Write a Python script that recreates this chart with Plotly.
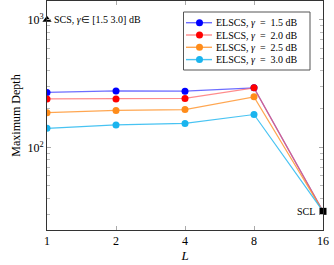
import plotly.graph_objects as go

L_values = [1, 2, 4, 8, 16]
elscs_15 = [270, 277, 276, 293, 31.5]
elscs_20 = [240, 240, 242, 293, 31.5]
elscs_25 = [187, 195, 198, 249, 31.5]
elscs_30 = [141, 150, 154, 181, 31.5]
gamma_labels = ["1.5", "2.0", "2.5", "3.0"]
series_colors = ["#0000ff", "#ff0000", "#ff8c1a", "#1ab4ee"]
line_colors = ["rgba(60,60,255,0.75)", "rgba(255,90,90,0.7)", "rgba(255,150,50,0.85)", "rgba(40,185,240,0.85)"]
scs_L, scs_depth = [1], [1000]
scl_L, scl_depth = [16], [31.5]

font = "Liberation Serif"
W, H = 334, 265
ML, MR, MT, MB = 47, 11, 1, 35
PW, PH = W - ML - MR, H - MT - MB

def px(x):
    return (x - ML) / PW

def py(y):
    return 1 - (y - MT) / PH

fig = go.Figure()
all_series = [elscs_15, elscs_20, elscs_25, elscs_30]
for vals, mc, lc in zip(all_series, series_colors, line_colors):
    fig.add_trace(go.Scatter(x=L_values, y=vals, mode="lines", showlegend=False,
                             line=dict(color=lc, width=1.2)))
for vals, mc in zip(all_series, series_colors):
    fig.add_trace(go.Scatter(x=L_values[:4], y=vals[:4], mode="markers", showlegend=False,
                             marker=dict(color=mc, size=7, symbol="circle")))
fig.add_trace(go.Scatter(x=scs_L, y=scs_depth, mode="markers", showlegend=False, cliponaxis=False,
                         marker=dict(color="black", size=8, symbol="triangle-up")))
fig.add_trace(go.Scatter(x=scl_L, y=scl_depth, mode="markers", showlegend=False, cliponaxis=False,
                         marker=dict(color="black", size=7, symbol="square")))

fig.add_annotation(x=0, y=3, xref="x", yref="y", text="SCS, <i>γ</i>∈ [1.5 3.0] dB", showarrow=False,
                   xanchor="left", xshift=5, font=dict(family=font, size=10, color="black"))
fig.add_annotation(x=1.20412, y=1.498, xref="x", yref="y", text="SCL", showarrow=False,
                   xanchor="right", xshift=-6, font=dict(family=font, size=10, color="black"))

# legend (drawn as a box)
fig.add_shape(type="rect", xref="paper", yref="paper", x0=px(183.5), x1=px(310), y0=py(70), y1=py(12),
              line=dict(color="#555555", width=1), fillcolor="white", layer="above")
entry_y = [22.7, 35, 47.3, 59.6]
for g, mc, lc, ey in zip(gamma_labels, series_colors, line_colors, entry_y):
    fig.add_shape(type="line", xref="paper", yref="paper", x0=px(186), x1=px(212), y0=py(ey), y1=py(ey),
                  line=dict(color=lc, width=1.4), layer="above")
    fig.add_shape(type="circle", xref="paper", yref="paper", xsizemode="pixel", ysizemode="pixel",
                  xanchor=px(199.5), yanchor=py(ey), x0=-3.5, x1=3.5, y0=-3.5, y1=3.5,
                  fillcolor=mc, line=dict(color=mc, width=0), layer="above")
    fig.add_annotation(xref="paper", yref="paper", x=px(214), y=py(ey), xanchor="left", yanchor="middle",
                       text="ELSCS, <i>γ</i>\u2002=\u2002" + g + " dB", showarrow=False,
                       font=dict(family=font, size=10, color="black"))

axis_common = dict(showline=True, linecolor="#333333", linewidth=1, mirror="allticks", ticks="inside",
                   ticklen=4, tickcolor="#aaaaaa", showgrid=False, zeroline=False, automargin=False,
                   tickfont=dict(family=font, size=12, color="black"))
fig.update_xaxes(type="log", range=[0, 1.20412], tickvals=L_values, ticktext=[str(v) for v in L_values],
                 title=dict(text="<i>L</i>", font=dict(family=font, size=13, color="black"), standoff=2),
                 **axis_common)
fig.update_yaxes(type="log", range=[1.352, 3.148], tickvals=[100, 1000],
                 ticktext=["10<sup>2</sup>", "10<sup>3</sup>"],
                 minor=dict(ticks="inside", ticklen=3, tickcolor="#bbbbbb",
                            tickvals=[30, 40, 50, 60, 70, 80, 90, 200, 300, 400, 500, 600, 700, 800, 900]),
                 title=dict(text="Maximum Depth", font=dict(family=font, size=12, color="black"), standoff=4),
                 **axis_common)

fig.update_layout(width=W, height=H, margin=dict(l=ML, r=MR, t=MT, b=MB),
                  paper_bgcolor="white", plot_bgcolor="white",
                  font=dict(family=font, color="black"), showlegend=False)
fig.write_html("out.html", config={"displayModeBar": False},
               post_script="document.body.style.margin='0';document.body.style.overflow='hidden';")
